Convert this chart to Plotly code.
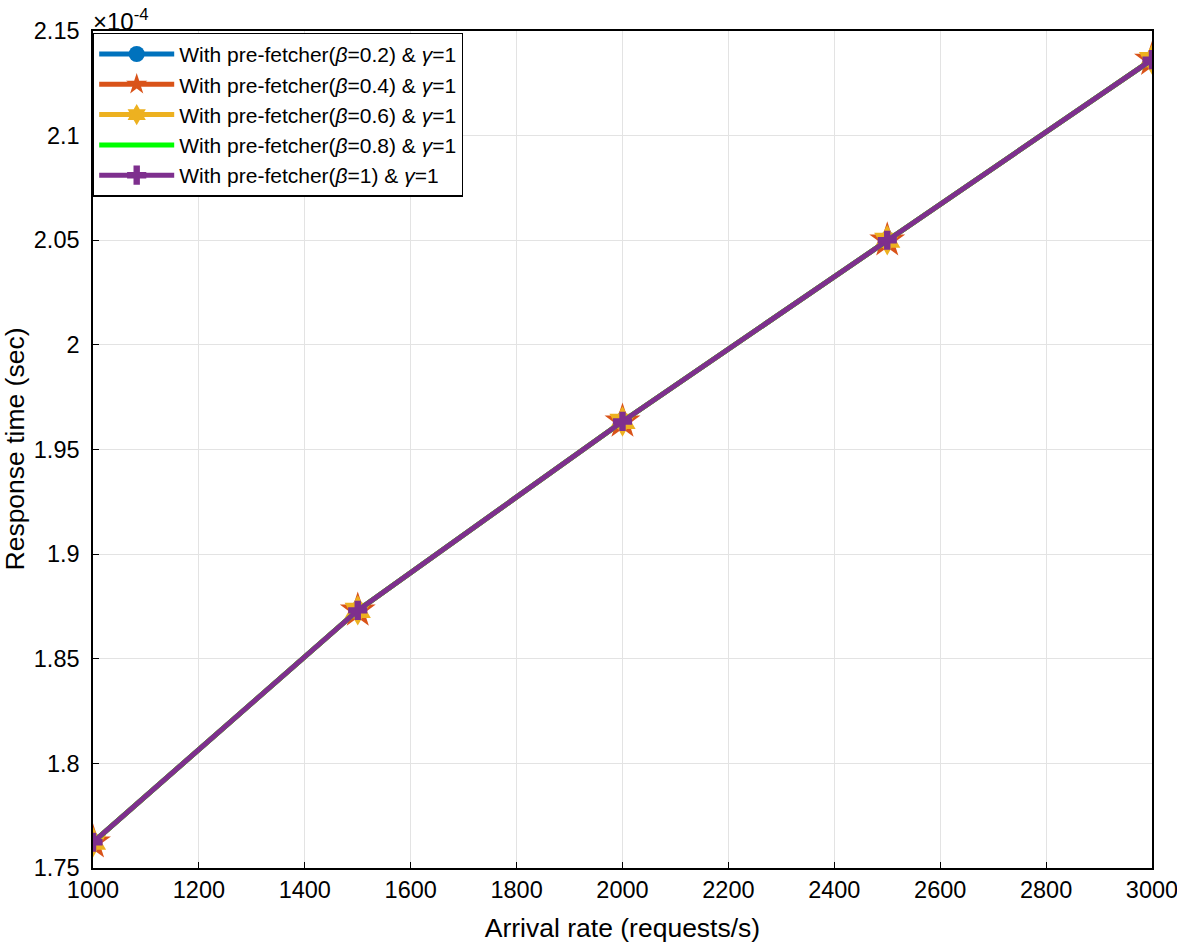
import plotly.graph_objects as go

# arrival rate (requests/s)
arrival_rate = [1000, 1500, 2000, 2500, 3000]

# response time in units of 1e-4 sec
resp_b02 = [1.7623, 1.8731, 1.9634, 2.0500, 2.1363]
resp_b04 = [1.7623, 1.8731, 1.9634, 2.0500, 2.1363]
resp_b06 = [1.7623, 1.8731, 1.9634, 2.0500, 2.1363]
resp_b08 = [1.7623, 1.8731, 1.9634, 2.0500, 2.1363]
resp_b10 = [1.7623, 1.8731, 1.9634, 2.0500, 2.1363]

series_names = [
    "With pre-fetcher(<i>β</i>=0.2) & <i>γ</i>=1",
    "With pre-fetcher(<i>β</i>=0.4) & <i>γ</i>=1",
    "With pre-fetcher(<i>β</i>=0.6) & <i>γ</i>=1",
    "With pre-fetcher(<i>β</i>=0.8) & <i>γ</i>=1",
    "With pre-fetcher(<i>β</i>=1) & <i>γ</i>=1",
]

y_ticks = [1.75, 1.8, 1.85, 1.9, 1.95, 2, 2.05, 2.1, 2.15]
x_ticks = list(range(1000, 3001, 200))

FONT = "Liberation Sans"

fig = go.Figure()

styles = [
    ("#0072BD", "circle", 18),
    ("#D95319", "star", 27),
    ("#EDB120", "hexagram", 23),
    ("#00FF00", None, 0),
    ("#7E2F8E", "cross", 16),
]
data = [resp_b02, resp_b04, resp_b06, resp_b08, resp_b10]

for name, ys, (color, sym, size) in zip(series_names, data, styles):
    if sym is None:
        fig.add_trace(go.Scatter(x=arrival_rate, y=ys, name=name, mode="lines",
                                 line=dict(color=color, width=5)))
    else:
        fig.add_trace(go.Scatter(x=arrival_rate, y=ys, name=name, mode="lines+markers",
                                 line=dict(color=color, width=5),
                                 marker=dict(symbol=sym, size=size, color=color,
                                             line=dict(width=0))))

axis_common = dict(
    showline=True, mirror=True, linecolor="black", linewidth=1.5,
    ticks="inside", ticklen=6, tickcolor="black",
    showgrid=True, gridcolor="#e3e3e3", gridwidth=1,
    zeroline=False, automargin=False, ticklabeloverflow="allow",
    tickfont=dict(size=23.5, color="black", family=FONT),
)

fig.update_xaxes(range=[1000, 3000], tickvals=x_ticks,
                 title=dict(text="Arrival rate (requests/s)", standoff=21,
                            font=dict(size=26.5, color="black", family=FONT)),
                 **axis_common)
fig.update_yaxes(range=[1.75, 2.15], tickvals=y_ticks,
                 ticktext=[f"{v:g}" for v in y_ticks], ticklabelstandoff=7,
                 **axis_common)

# y title as an annotation so it can sit close to the page edge like the original
fig.add_annotation(text="Response time (sec)", xref="paper", yref="paper",
                   x=0, y=0.5, xanchor="center", yanchor="middle", xshift=-79,
                   textangle=-90, showarrow=False,
                   font=dict(size=26.5, color="black", family=FONT))

fig.add_annotation(text="×10<sup>-4</sup>", xref="paper", yref="paper",
                   x=0, y=1, xanchor="left", yanchor="bottom", showarrow=False,
                   yshift=-6, xshift=-2,
                   font=dict(size=24, color="black", family=FONT))

fig.update_layout(
    width=1177, height=943,
    margin=dict(l=93, r=25, t=31, b=75),
    plot_bgcolor="white", paper_bgcolor="white",
    font=dict(family=FONT, color="black"),
    legend=dict(x=0.0, y=0.998, xanchor="left", yanchor="top",
                bgcolor="white", bordercolor="black", borderwidth=1.2,
                font=dict(size=21, color="black", family=FONT),
                itemwidth=75, tracegroupgap=0),
)

# drop the page's default body margin so the figure sits at the window corner
fig.write_html("out.html", config={"displayModeBar": False},
               post_script="document.body.style.margin='0';")
